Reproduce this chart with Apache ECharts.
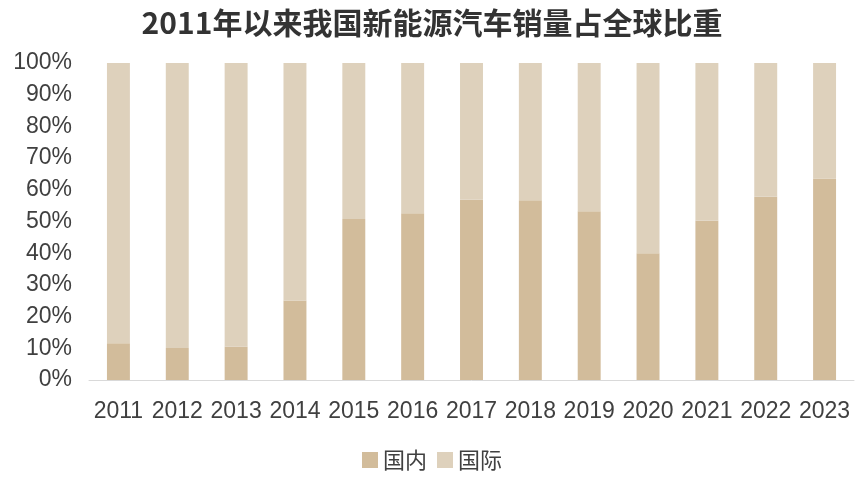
<!DOCTYPE html>
<html>
<head>
<meta charset="utf-8">
<script src="https://cdn.jsdelivr.net/npm/echarts@6/dist/echarts.min.js"></script>
<style>
  html, body { margin: 0; padding: 0; background: #fff; }
  #chart { width: 864px; height: 486px; }
</style>
</head>
<body>
<div id="chart"></div>
<script>
// 年份
const years = ['2011', '2012', '2013', '2014', '2015', '2016', '2017', '2018', '2019', '2020', '2021', '2022', '2023']
// 国内占比 (%)
const domestic = [11.6, 10.1, 10.5, 25.1, 50.8, 52.6, 56.9, 56.7, 53.2, 40.0, 50.2, 57.8, 63.6]
// 国际占比 (%)
const international = [88.4, 89.9, 89.5, 74.9, 49.2, 47.4, 43.1, 43.3, 46.8, 60.0, 49.8, 42.2, 36.4]
const yTicks = [0, 10, 20, 30, 40, 50, 60, 70, 80, 90, 100]

const fontFamily = '"Liberation Sans", Arial, "Noto Sans CJK SC", sans-serif'
const textColor = '#404040'

const chart = echarts.init(document.getElementById('chart'))

chart.setOption({
  backgroundColor: '#fff',
  animation: false,
  title: {
    text: '2011年以来我国新能源汽车销量占全球比重',
    left: 'center',
    top: 3,
    textStyle: {
      fontFamily: '"Noto Sans CJK SC", sans-serif',
      fontSize: 30,
      fontWeight: 'bold',
      color: '#333'
    }
  },
  legend: {
    bottom: 10,
    left: 'center',
    itemWidth: 16,
    itemHeight: 16,
    itemGap: 10,
    icon: 'rect',
    textStyle: {
      fontFamily: '"Noto Sans CJK SC", sans-serif',
      fontSize: 22,
      color: textColor
    },
    data: ['国内', '国际']
  },
  grid: {
    left: 89,
    right: 10,
    top: 63,
    bottom: 106
  },
  xAxis: {
    type: 'category',
    data: years,
    axisLine: { lineStyle: { color: '#d9d9d9' } },
    axisTick: { show: false },
    axisLabel: {
      fontFamily,
      fontSize: 23,
      color: textColor,
      margin: 20,
      interval: 0
    }
  },
  yAxis: {
    type: 'value',
    min: yTicks[0],
    max: yTicks[yTicks.length - 1],
    interval: 10,
    axisLine: { show: false },
    axisTick: { show: false },
    splitLine: { show: false },
    axisLabel: {
      fontFamily,
      fontSize: 23,
      color: textColor,
      margin: 17,
      formatter: '{value}%'
    }
  },
  series: [
    {
      name: '国内',
      type: 'bar',
      stack: 'total',
      barWidth: '39%',
      data: domestic,
      itemStyle: { color: '#d2bc9b' }
    },
    {
      name: '国际',
      type: 'bar',
      stack: 'total',
      barWidth: '39%',
      data: international,
      itemStyle: { color: '#ded1bc' }
    }
  ]
})

window.addEventListener('resize', () => chart.resize())
</script>
</body>
</html>
